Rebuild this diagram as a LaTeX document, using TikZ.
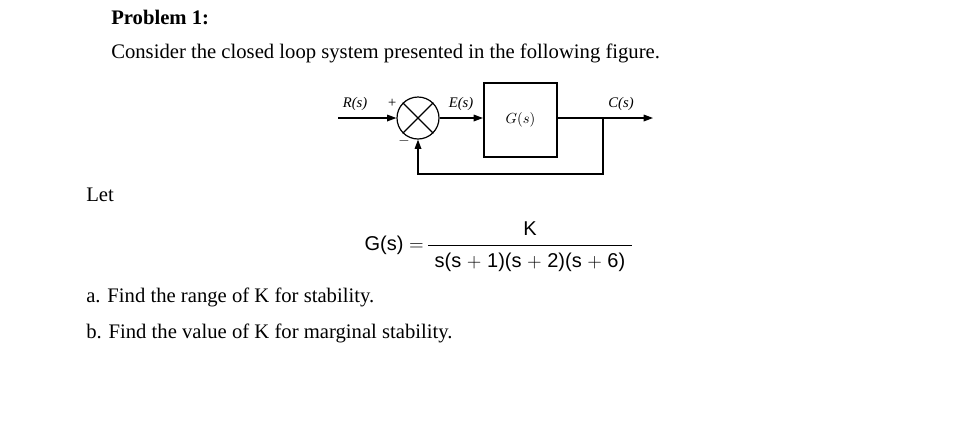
\documentclass[tikz,border=0pt]{standalone}
\usepackage{amsmath}
\usepackage{fontspec}
\setmainfont{Liberation Serif}
\newfontfamily\eqf{Liberation Sans}
\usetikzlibrary{arrows.meta}
\begin{document}
\begin{tikzpicture}[x=0.75pt,y=-0.75pt,
  txt/.style={anchor=west,inner sep=0,font=\fontsize{15.5}{18}\selectfont},
  lbl/.style={inner sep=0,font=\fontsize{11}{13}\selectfont\itshape},
  eqs/.style={inner sep=0,font=\eqf\fontsize{15}{18}\selectfont},
  arr/.style={-{Triangle[length=7pt,width=5pt]},line width=0.9pt},
  ln/.style={line width=0.9pt}]
\useasboundingbox (0,0) rectangle (959,430);
\node[txt,font=\fontsize{15.5}{18}\selectfont\bfseries] (p) at (111,17) {Problem 1:};
\node[txt] (c) at (111,53) {Consider the closed loop system presented in the following figure.};
\coordinate (r) at (338,118);
\node[draw,circle,ln,minimum size=31.5,inner sep=0] (s) at (418,118) {};
\draw[ln] (s.north west)--(s.south east) (s.north east)--(s.south west);
\node[draw,line width=1.3pt,minimum width=55,minimum height=56,inner sep=0] (g) at (520.5,120) {\fontsize{11}{13}\selectfont$G(s)$};
\coordinate (o) at (653,118);
\coordinate (b) at (603,118);
\coordinate (fb) at (603,174);
\coordinate (fl) at (418,174);
\draw[arr] (r)--(s.west);
\draw[arr] (s.east)--(g.west|-s.east);
\draw[arr] (g.east|-o)--(o);
\draw[arr] (b)--(fb)--(fl)--(s.south);
\node[lbl] (lr) at (355,104) {R(s)};
\node[lbl] (lp) at (392,103) {+};
\node[lbl] (lm) at (404,141) {$-$};
\node[lbl] (le) at (461,104) {E(s)};
\node[lbl] (lc) at (621,104) {C(s)};
\node[txt] (let) at (86,195) {Let};
\node[eqs,anchor=east] (gl) at (424,245) {G(s) $=$};
\node[eqs] (num) at (530,229) {K};
\node[eqs] (den) at (530,262) {s(s $+$ 1)(s $+$ 2)(s $+$ 6)};
\draw[line width=0.7pt] (428,245) -- (632,245);
\node[txt] (a) at (86,297) {a. Find the range of K for stability.};
\node[txt] (bb) at (86,333) {b. Find the value of K for marginal stability.};
\end{tikzpicture}
\end{document}
